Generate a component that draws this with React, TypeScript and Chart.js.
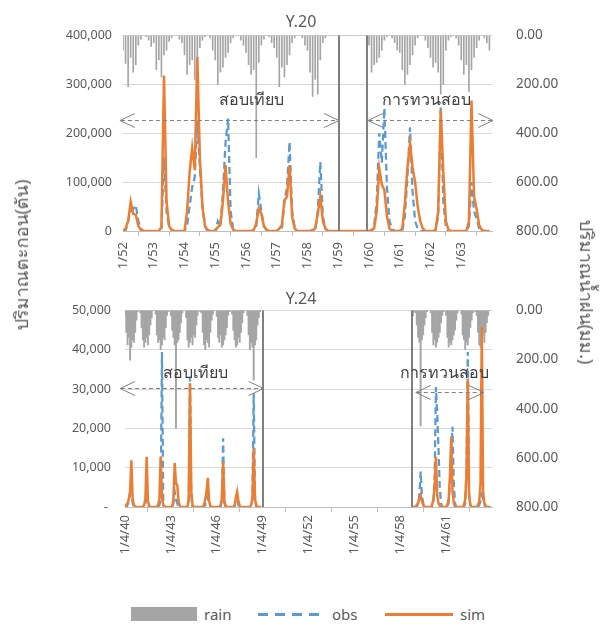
import React, { useEffect, useRef } from "react";
import { Chart, registerables } from "chart.js";

Chart.register(...registerables);

const FONT = "'Noto Sans', 'Open Sans', sans-serif";
const TXT = "#595959";

// ---------- Y.20 (monthly, from 1/52) ----------
const topTickLabels = ["1/52", "1/53", "1/54", "1/55", "1/56", "1/57", "1/58", "1/59", "1/60", "1/61", "1/62", "1/63"];
const topYLabels = ["0", "100,000", "200,000", "300,000", "400,000"];
const rainLabels = ["0.00", "200.00", "400.00", "600.00", "800.00"];

const topSim = [
  0, 5000, 20000, 60000, 35000, 33000, 10000, 2000, 0, 0, 0, 0,
  0, 0, 0, 8000, 318000, 60000, 10000, 2000, 0, 0, 0, 0,
  0, 40000, 120000, 170000, 125000, 356000, 150000, 50000, 10000, 2000, 0, 0,
  0, 8000, 12000, 60000, 135000, 60000, 15000, 3000, 0, 0, 0, 0,
  0, 0, 0, 2000, 15000, 47000, 35000, 10000, 3000, 0, 0, 0,
  0, 5000, 12000, 63000, 70000, 135000, 30000, 5000, 0, 0, 0, 0,
  0, 0, 2000, 5000, 35000, 70000, 20000, 5000, 0, 0, 0, 0,
  0, 0, 0, 0, 0, 0, 0, 0, 0, 0, 0, 0,
  0, 2000, 5000, 40000, 128000, 95000, 84000, 30000, 5000, 0, 0, 0,
  0, 5000, 57000, 130000, 179000, 130000, 100000, 50000, 20000, 5000, 0, 0,
  0, 0, 3000, 40000, 247000, 120000, 20000, 3000, 0, 0, 0, 0,
  0, 0, 0, 20000, 267000, 70000, 45000, 12000, 2000, 0, 0, 0,
];
const topObs = [
  0, 0, 20000, 40000, 45000, 53000, 20000, 5000, 0, 0, 0, 0,
  0, 0, 0, 5000, 150000, 40000, 10000, 2000, 0, 0, 0, 0,
  0, 10000, 50000, 90000, 110000, 226000, 130000, 50000, 10000, 0, 0, 0,
  0, 20000, 10000, 80000, 180000, 230000, 40000, 5000, 0, 0, 0, 0,
  0, 0, 0, 0, 10000, 77000, 40000, 10000, 2000, 0, 0, 0,
  0, 0, 5000, 60000, 90000, 182000, 40000, 8000, 0, 0, 0, 0,
  0, 0, 0, 0, 40000, 141000, 30000, 5000, 0, 0, 0, 0,
  0, 0, 0, 0, 0, 0, 0, 0, 0, 0, 0, 0,
  0, 0, 10000, 60000, 200000, 140000, 251000, 90000, 20000, 5000, 0, 0,
  0, 0, 30000, 110000, 212000, 80000, 20000, 5000, 0, 0, 0, 0,
  0, 0, 0, 30000, 255000, 60000, 8000, 0, 0, 0, 0, 0,
  0, 0, 0, 10000, 100000, 40000, 25000, 5000, 0, 0, 0, 0,
];
const topRain = [
  60, 115, 210, 90, 150, 120, 40, 15, 0, 5, 20, 45,
  30, 140, 100, 170, 80, 60, 25, 10, 0, 0, 15, 30,
  80, 160, 120, 100, 180, 140, 50, 20, 5, 0, 10, 60,
  100, 200, 150, 130, 90, 70, 30, 10, 0, 0, 20, 40,
  70, 120, 160, 140, 500, 110, 40, 15, 0, 5, 30, 50,
  90, 210, 130, 170, 120, 80, 30, 10, 0, 0, 10, 40,
  60, 150, 250, 180, 240, 100, 30, 10, 0, 0, 0, 0,
  0, 0, 0, 0, 0, 0, 0, 0, 0, 0, 0, 0,
  40, 150, 120, 110, 90, 60, 20, 5, 0, 10, 30, 60,
  70, 140, 200, 160, 120, 80, 40, 10, 0, 0, 20, 50,
  90, 130, 110, 150, 240, 200, 60, 20, 5, 0, 10, 40,
  100, 160, 120, 230, 140, 90, 50, 20, 0, 10, 30, 60,
];

// ---------- Y.24 (monthly, from 1/4/40) ----------
const bottomTickLabels = ["1/4/40", "1/4/43", "1/4/46", "1/4/49", "1/4/52", "1/4/55", "1/4/58", "1/4/61"];
const bottomYLabels = ["- ", "10,000", "20,000", "30,000", "40,000", "50,000"];

const bottomSim1 = [
  0, 500, 1000, 2000, 4000, 11900, 2000, 500, 0, 0, 0, 0,
  0, 0, 0, 500, 2000, 12800, 1500, 300, 0, 0, 0, 0,
  0, 0, 500, 2000, 12800, 2500, 500, 0, 0, 0, 0, 0,
  0, 0, 2000, 11200, 6000, 5600, 1500, 300, 0, 0, 0, 0,
  0, 0, 2000, 31500, 4000, 500, 0, 0, 0, 0, 0, 0,
  0, 0, 500, 2000, 4000, 7400, 1500, 300, 0, 0, 0, 0,
  0, 0, 0, 500, 2000, 11500, 1500, 300, 0, 0, 0, 0,
  0, 0, 500, 2500, 3900, 1500, 300, 0, 0, 0, 0, 0,
  0, 0, 0, 500, 2000, 15000, 2000, 500, 0, 0, 0, 0,
];
const bottomObs1 = [
  0, 0, 500, 1500, 3500, 3000, 1000, 0, 0, 0, 0, 0,
  0, 0, 0, 0, 1000, 2000, 500, 0, 0, 0, 0, 0,
  0, 0, 0, 500, 2000, 39400, 2000, 0, 0, 0, 0, 0,
  0, 0, 1000, 3900, 2000, 1000, 0, 0, 0, 0, 0, 0,
  0, 0, 1000, 33000, 3000, 0, 0, 0, 0, 0, 0, 0,
  0, 0, 0, 500, 1500, 2500, 1000, 0, 0, 0, 0, 0,
  0, 0, 0, 0, 1500, 17500, 1000, 0, 0, 0, 0, 0,
  0, 0, 0, 1000, 1500, 500, 0, 0, 0, 0, 0, 0,
  0, 0, 0, 0, 2000, 29000, 3000, 0, 0, 0, 0, 0,
];
const bottomRain1 = [
  20, 90, 140, 110, 203, 150, 120, 130, 90, 40, 5, 0,
  10, 70, 120, 150, 130, 110, 140, 100, 60, 30, 0, 0,
  15, 100, 130, 120, 160, 140, 110, 120, 70, 20, 5, 0,
  20, 80, 110, 140, 480, 130, 120, 90, 50, 10, 0, 0,
  30, 120, 150, 130, 110, 140, 100, 110, 60, 20, 0, 5,
  10, 90, 140, 160, 120, 130, 150, 90, 40, 15, 0, 0,
  25, 110, 130, 100, 150, 140, 120, 100, 70, 20, 5, 0,
  15, 80, 120, 150, 140, 110, 130, 90, 50, 10, 0, 0,
  20, 100, 160, 130, 150, 284, 140, 120, 60, 30, 5, 0,
];

const bottomSeg2Start = 226; // month index of first value of the second record
const bottomSim2 = [
  0, 0, 0, 500, 1000, 2000,
  3000, 1500, 500, 0, 0, 0, 0, 0,
  0, 500, 2000, 5000, 12800, 3000, 1000, 300, 0, 0, 0, 0,
  0, 500, 2000, 8000, 17800, 4000, 1000, 0, 0, 0, 0, 0,
  0, 0, 500, 2000, 8000, 32700, 3000, 500, 0, 0, 0, 0,
  0, 500, 1500, 6000, 45700, 4000, 1000, 300, 0, 0, 0, 0,
];
const bottomObs2 = [
  0, 0, 0, 0, 1000, 3000,
  9000, 3000, 1000, 0, 0, 0, 0, 0,
  0, 0, 1000, 8000, 30500, 24000, 15000, 5000, 1000, 0, 0, 0,
  0, 0, 1000, 6000, 15000, 20400, 6000, 1000, 0, 0, 0, 0,
  0, 0, 0, 1000, 10000, 39400, 3000, 500, 0, 0, 0, 0,
  0, 0, 500, 1500, 3000, 2000, 500, 0, 0, 0, 0, 0,
];
const bottomRain2 = [
  20, 5, 10, 60, 110, 130,
  470, 120, 100, 60, 30, 5, 0, 0,
  10, 90, 140, 120, 150, 130, 110, 90, 50, 20, 5, 0,
  20, 110, 150, 130, 140, 120, 100, 80, 40, 10, 0, 0,
  15, 100, 120, 160, 130, 140, 110, 70, 40, 10, 0, 5,
  20, 90, 140, 150, 120, 100, 130, 90, 50, 20, 0, 0,
];

type Pt = { x: number; y: number | null };
const toPts = (arr: number[], start = 0): Pt[] => arr.map((y, i) => ({ x: start + i, y }));
const joinSegs = (a: number[], b: number[]): Pt[] => [
  ...toPts(a),
  { x: a.length, y: null },
  ...toPts(b, bottomSeg2Start),
];

const annotPlugin = {
  id: "annot",
  afterDatasetsDraw(chart: any, _args: any, opts: any) {
    const { ctx, chartArea, scales } = chart;
    const xs = scales.x;
    const ys = scales.y;
    ctx.save();
    ctx.strokeStyle = "#7f7f7f";
    ctx.lineWidth = 2;
    for (const v of opts.vlines || []) {
      const px = Math.round(xs.getPixelForValue(v));
      ctx.beginPath();
      ctx.moveTo(px, chartArea.top);
      ctx.lineTo(px, chartArea.bottom);
      ctx.stroke();
    }
    for (const a of opts.arrows || []) {
      const x1 = xs.getPixelForValue(a.x1);
      const x2 = xs.getPixelForValue(a.x2);
      const y = Math.round(ys.getPixelForValue(a.y)) + 0.5;
      ctx.strokeStyle = "#808080";
      ctx.lineWidth = 1;
      ctx.setLineDash([4, 3]);
      ctx.beginPath();
      ctx.moveTo(x1 + 1, y);
      ctx.lineTo(x2 - 1, y);
      ctx.stroke();
      ctx.setLineDash([]);
      ctx.beginPath();
      ctx.moveTo(x1 + 15, y - 7);
      ctx.lineTo(x1, y);
      ctx.lineTo(x1 + 15, y + 7);
      ctx.moveTo(x2 - 15, y - 7);
      ctx.lineTo(x2, y);
      ctx.lineTo(x2 - 15, y + 7);
      ctx.stroke();
      ctx.fillStyle = "#404040";
      ctx.font = `16px ${FONT}`;
      ctx.textAlign = "center";
      ctx.textBaseline = "middle";
      ctx.fillText(a.text, xs.getPixelForValue(a.tx), ys.getPixelForValue(a.ty));
    }
    ctx.restore();
  },
};

function makeConfig(p: any) {
  return {
    type: "bar",
    data: {
      datasets: [
        {
          type: "line",
          label: "sim",
          data: p.sim,
          borderColor: "#ed7d31",
          borderWidth: 2.5,
          pointRadius: 0,
          fill: false,
          tension: 0,
          yAxisID: "y",
          order: 0,
        },
        {
          type: "line",
          label: "obs",
          data: p.obs,
          borderColor: "#5b9bd5",
          borderWidth: 2.25,
          borderDash: [7, 4],
          pointRadius: 0,
          fill: false,
          tension: 0,
          yAxisID: "y",
          order: 1,
        },
        {
          type: "bar",
          label: "rain",
          data: p.rain,
          backgroundColor: "#a5a5a5",
          borderWidth: 0,
          yAxisID: "y2",
          order: 2,
          barPercentage: 1,
          categoryPercentage: 1,
          ...(p.barThickness ? { barThickness: p.barThickness } : {}),
        },
      ],
    },
    options: {
      responsive: false,
      animation: false,
      devicePixelRatio: 1,
      layout: { padding: 0 },
      plugins: {
        legend: { display: false },
        tooltip: { enabled: false },
        title: {
          display: true,
          text: p.title,
          color: TXT,
          font: { family: FONT, size: 16, weight: "normal" },
          padding: p.titlePad,
        },
        annot: { vlines: p.vlines, arrows: p.arrows },
      },
      scales: {
        x: {
          type: "linear",
          min: 0,
          max: p.xMax,
          offset: false,
          afterBuildTicks: (s: any) => {
            s.ticks = p.tickLabels.map((_: string, i: number) => ({ value: i * p.tickStep }));
          },
          afterFit: (s: any) => {
            s.height = p.xHeight;
          },
          ticks: {
            autoSkip: false,
            maxRotation: 90,
            minRotation: 90,
            padding: p.xPad,
            color: TXT,
            font: { family: FONT, size: 13 },
            callback: (_v: any, i: number) => p.tickLabels[i],
          },
          grid: { drawOnChartArea: false, drawTicks: true, tickLength: 5, color: "#bfbfbf" },
          border: { display: true, color: "#bfbfbf", width: 1 },
        },
        y: {
          position: "left",
          min: 0,
          max: p.yMax,
          afterBuildTicks: (s: any) => {
            s.ticks = p.yLabels.map((_: string, i: number) => ({ value: i * p.yStep }));
          },
          afterFit: (s: any) => {
            s.width = p.left;
          },
          ticks: {
            padding: p.yPad,
            color: TXT,
            font: { family: FONT, size: 12.5 },
            callback: (_v: any, i: number) => p.yLabels[i],
          },
          grid: { color: "#d9d9d9", drawTicks: false },
          border: { display: false },
        },
        y2: {
          position: "right",
          reverse: true,
          min: 0,
          max: 800,
          afterBuildTicks: (s: any) => {
            s.ticks = rainLabels.map((_: string, i: number) => ({ value: i * 200 }));
          },
          afterFit: (s: any) => {
            s.width = 602 - p.right;
          },
          ticks: {
            padding: 24,
            color: TXT,
            font: { family: FONT, size: 13.5 },
            callback: (_v: any, i: number) => rainLabels[i],
          },
          grid: { display: false, drawTicks: false },
          border: { display: false },
        },
      },
    },
    plugins: [annotPlugin],
  };
}

function ChartCanvas({ cfg, top, height }: { cfg: any; top: number; height: number }) {
  const ref = useRef<HTMLCanvasElement>(null);
  useEffect(() => {
    const c = new Chart(ref.current as HTMLCanvasElement, cfg);
    return () => c.destroy();
  }, []);
  return (
    <canvas
      ref={ref}
      width={602}
      height={height}
      style={{ position: "absolute", left: 0, top, width: 602, height }}
    />
  );
}

const topCfg = makeConfig({
  title: "Y.20",
  titlePad: { top: 13, bottom: 3.2 },
  sim: toPts(topSim),
  obs: toPts(topObs),
  rain: toPts(topRain),
  barThickness: 1,
  xMax: 144,
  tickLabels: topTickLabels,
  tickStep: 12,
  xHeight: 44,
  xPad: 6,
  yMax: 400000,
  yStep: 100000,
  yLabels: topYLabels,
  yPad: 11,
  left: 123,
  right: 492,
  vlines: [84.3, 95.1],
  arrows: [
    { x1: -1.2, x2: 84.3, y: 228000, text: "สอบเทียบ", tx: 50.3, ty: 267000 },
    { x1: 95.6, x2: 144.4, y: 226500, text: "การทวนสอบ", tx: 118.5, ty: 267000 },
  ],
});

const bottomCfg = makeConfig({
  title: "Y.24",
  titlePad: { top: 15, bottom: 1.2 },
  sim: joinSegs(bottomSim1, bottomSim2),
  obs: joinSegs(bottomObs1, bottomObs2),
  rain: [...toPts(bottomRain1), ...toPts(bottomRain2, bottomSeg2Start)],
  xMax: 288,
  tickLabels: bottomTickLabels,
  tickStep: 36,
  xHeight: 78,
  xPad: 3,
  yMax: 50000,
  yStep: 10000,
  yLabels: bottomYLabels,
  yPad: 14,
  left: 125,
  right: 492,
  vlines: [108.4, 225.6],
  arrows: [
    { x1: -3.9, x2: 108.8, y: 30200, text: "สอบเทียบ", tx: 55.5, ty: 34000 },
    { x1: 228.2, x2: 281.7, y: 29300, text: "การทวนสอบ", tx: 250.4, ty: 34000 },
  ],
});

export default function App() {
  useEffect(() => {
    document.body.style.margin = "0";
  }, []);
  const label: React.CSSProperties = {
    position: "absolute",
    color: TXT,
    fontFamily: FONT,
    fontSize: 15,
    lineHeight: "20px",
    whiteSpace: "nowrap",
  };
  return (
    <div style={{ position: "absolute", left: 0, top: 0, width: 602, height: 627, background: "#fff", overflow: "hidden" }}>
      <ChartCanvas cfg={topCfg} top={0} height={275} />
      <ChartCanvas cfg={bottomCfg} top={275} height={310} />
      <div
        style={{
          ...label,
          fontSize: 18,
          left: 21,
          top: 255,
          transform: "translate(-50%, -50%) rotate(-90deg)",
        }}
      >
        ปริมาณตะกอน(ตัน)
      </div>
      <div
        style={{
          ...label,
          fontSize: 18,
          left: 587,
          top: 292,
          transform: "translate(-50%, -50%) rotate(90deg)",
        }}
      >
        ปริมาณน้ำฝน(มม.)
      </div>
      <div style={{ position: "absolute", left: 131, top: 607, width: 66, height: 14, background: "#a5a5a5" }} />
      <div style={{ ...label, left: 204, top: 604 }}>rain</div>
      <div
        style={{
          position: "absolute",
          left: 258,
          top: 613,
          width: 62,
          height: 2.5,
          background: "repeating-linear-gradient(to right, #5b9bd5 0 10px, transparent 10px 17px)",
        }}
      />
      <div style={{ ...label, left: 332, top: 604 }}>obs</div>
      <div style={{ position: "absolute", left: 385, top: 613, width: 68, height: 2.5, background: "#ed7d31" }} />
      <div style={{ ...label, left: 460, top: 604 }}>sim</div>
    </div>
  );
}
